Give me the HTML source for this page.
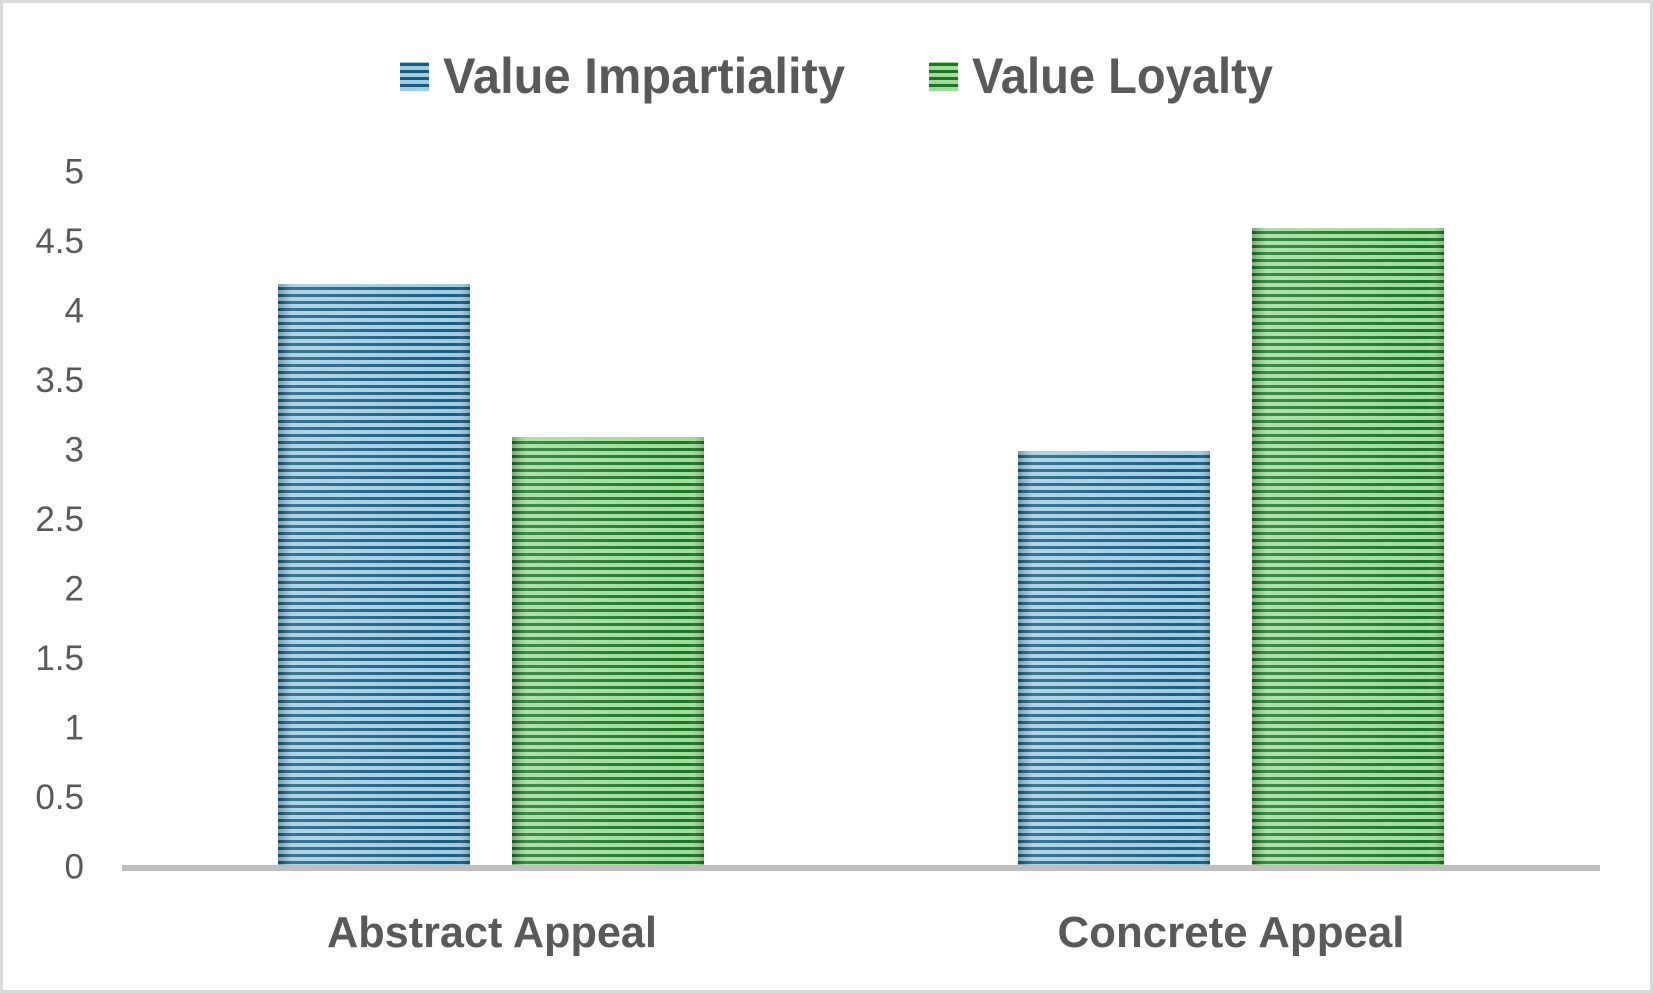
<!DOCTYPE html>
<html><head><style>html,body{margin:0;padding:0;background:#fff}svg{display:block}</style></head><body>
<svg width="1653" height="993" xmlns="http://www.w3.org/2000/svg" font-family="Liberation Sans, sans-serif">
<defs>
<pattern id="pb" width="8" height="7" patternUnits="userSpaceOnUse"><rect width="8" height="7" fill="#9fcde4"/><rect width="8" height="3" fill="#1c5b7c"/></pattern>
<pattern id="pg" width="8" height="7" patternUnits="userSpaceOnUse"><rect width="8" height="7" fill="#9fdc97"/><rect width="8" height="3" fill="#1c7428"/></pattern>
<linearGradient id="sh" x1="0" x2="1"><stop offset="0" stop-color="#000" stop-opacity="0.25"/><stop offset="0.08" stop-color="#fff" stop-opacity="0.15"/><stop offset="0.92" stop-color="#fff" stop-opacity="0"/><stop offset="1" stop-color="#000" stop-opacity="0.2"/></linearGradient>
</defs>
<rect x="1.5" y="1.5" width="1650" height="990" fill="#fff" stroke="#d9d9d9" stroke-width="3"/>
<g fill="#595959" font-size="35" text-anchor="end" dominant-baseline="central">
<text x="84" y="867">0</text><text x="84" y="797.5">0.5</text><text x="84" y="728">1</text><text x="84" y="658.5">1.5</text><text x="84" y="589">2</text><text x="84" y="519.5">2.5</text><text x="84" y="450">3</text><text x="84" y="380.5">3.5</text><text x="84" y="311">4</text><text x="84" y="241.5">4.5</text><text x="84" y="172">5</text>
</g>
<rect x="278" y="284" width="192" height="583" fill="url(#pb)"/><rect x="278" y="284" width="192" height="583" fill="url(#sh)"/>
<rect x="512" y="437" width="192" height="430" fill="url(#pg)"/><rect x="512" y="437" width="192" height="430" fill="url(#sh)"/>
<rect x="1018" y="451" width="192" height="416" fill="url(#pb)"/><rect x="1018" y="451" width="192" height="416" fill="url(#sh)"/>
<rect x="1252" y="228" width="192" height="639" fill="url(#pg)"/><rect x="1252" y="228" width="192" height="639" fill="url(#sh)"/>
<rect x="122" y="865" width="1478" height="6" fill="#bfbfbf"/>
<g fill="#595959" font-size="44" font-weight="bold" text-anchor="middle">
<text x="492" y="947" textLength="330" lengthAdjust="spacingAndGlyphs">Abstract Appeal</text>
<text x="1231" y="947" textLength="347" lengthAdjust="spacingAndGlyphs">Concrete Appeal</text>
</g>
<rect x="400" y="62" width="29" height="29" fill="url(#pb)"/>
<rect x="929" y="62" width="29" height="29" fill="url(#pg)"/>
<g fill="#595959" font-size="50" font-weight="bold">
<text x="443" y="93" textLength="402" lengthAdjust="spacingAndGlyphs">Value Impartiality</text>
<text x="972" y="93" textLength="301" lengthAdjust="spacingAndGlyphs">Value Loyalty</text>
</g>
</svg>
</body></html>
